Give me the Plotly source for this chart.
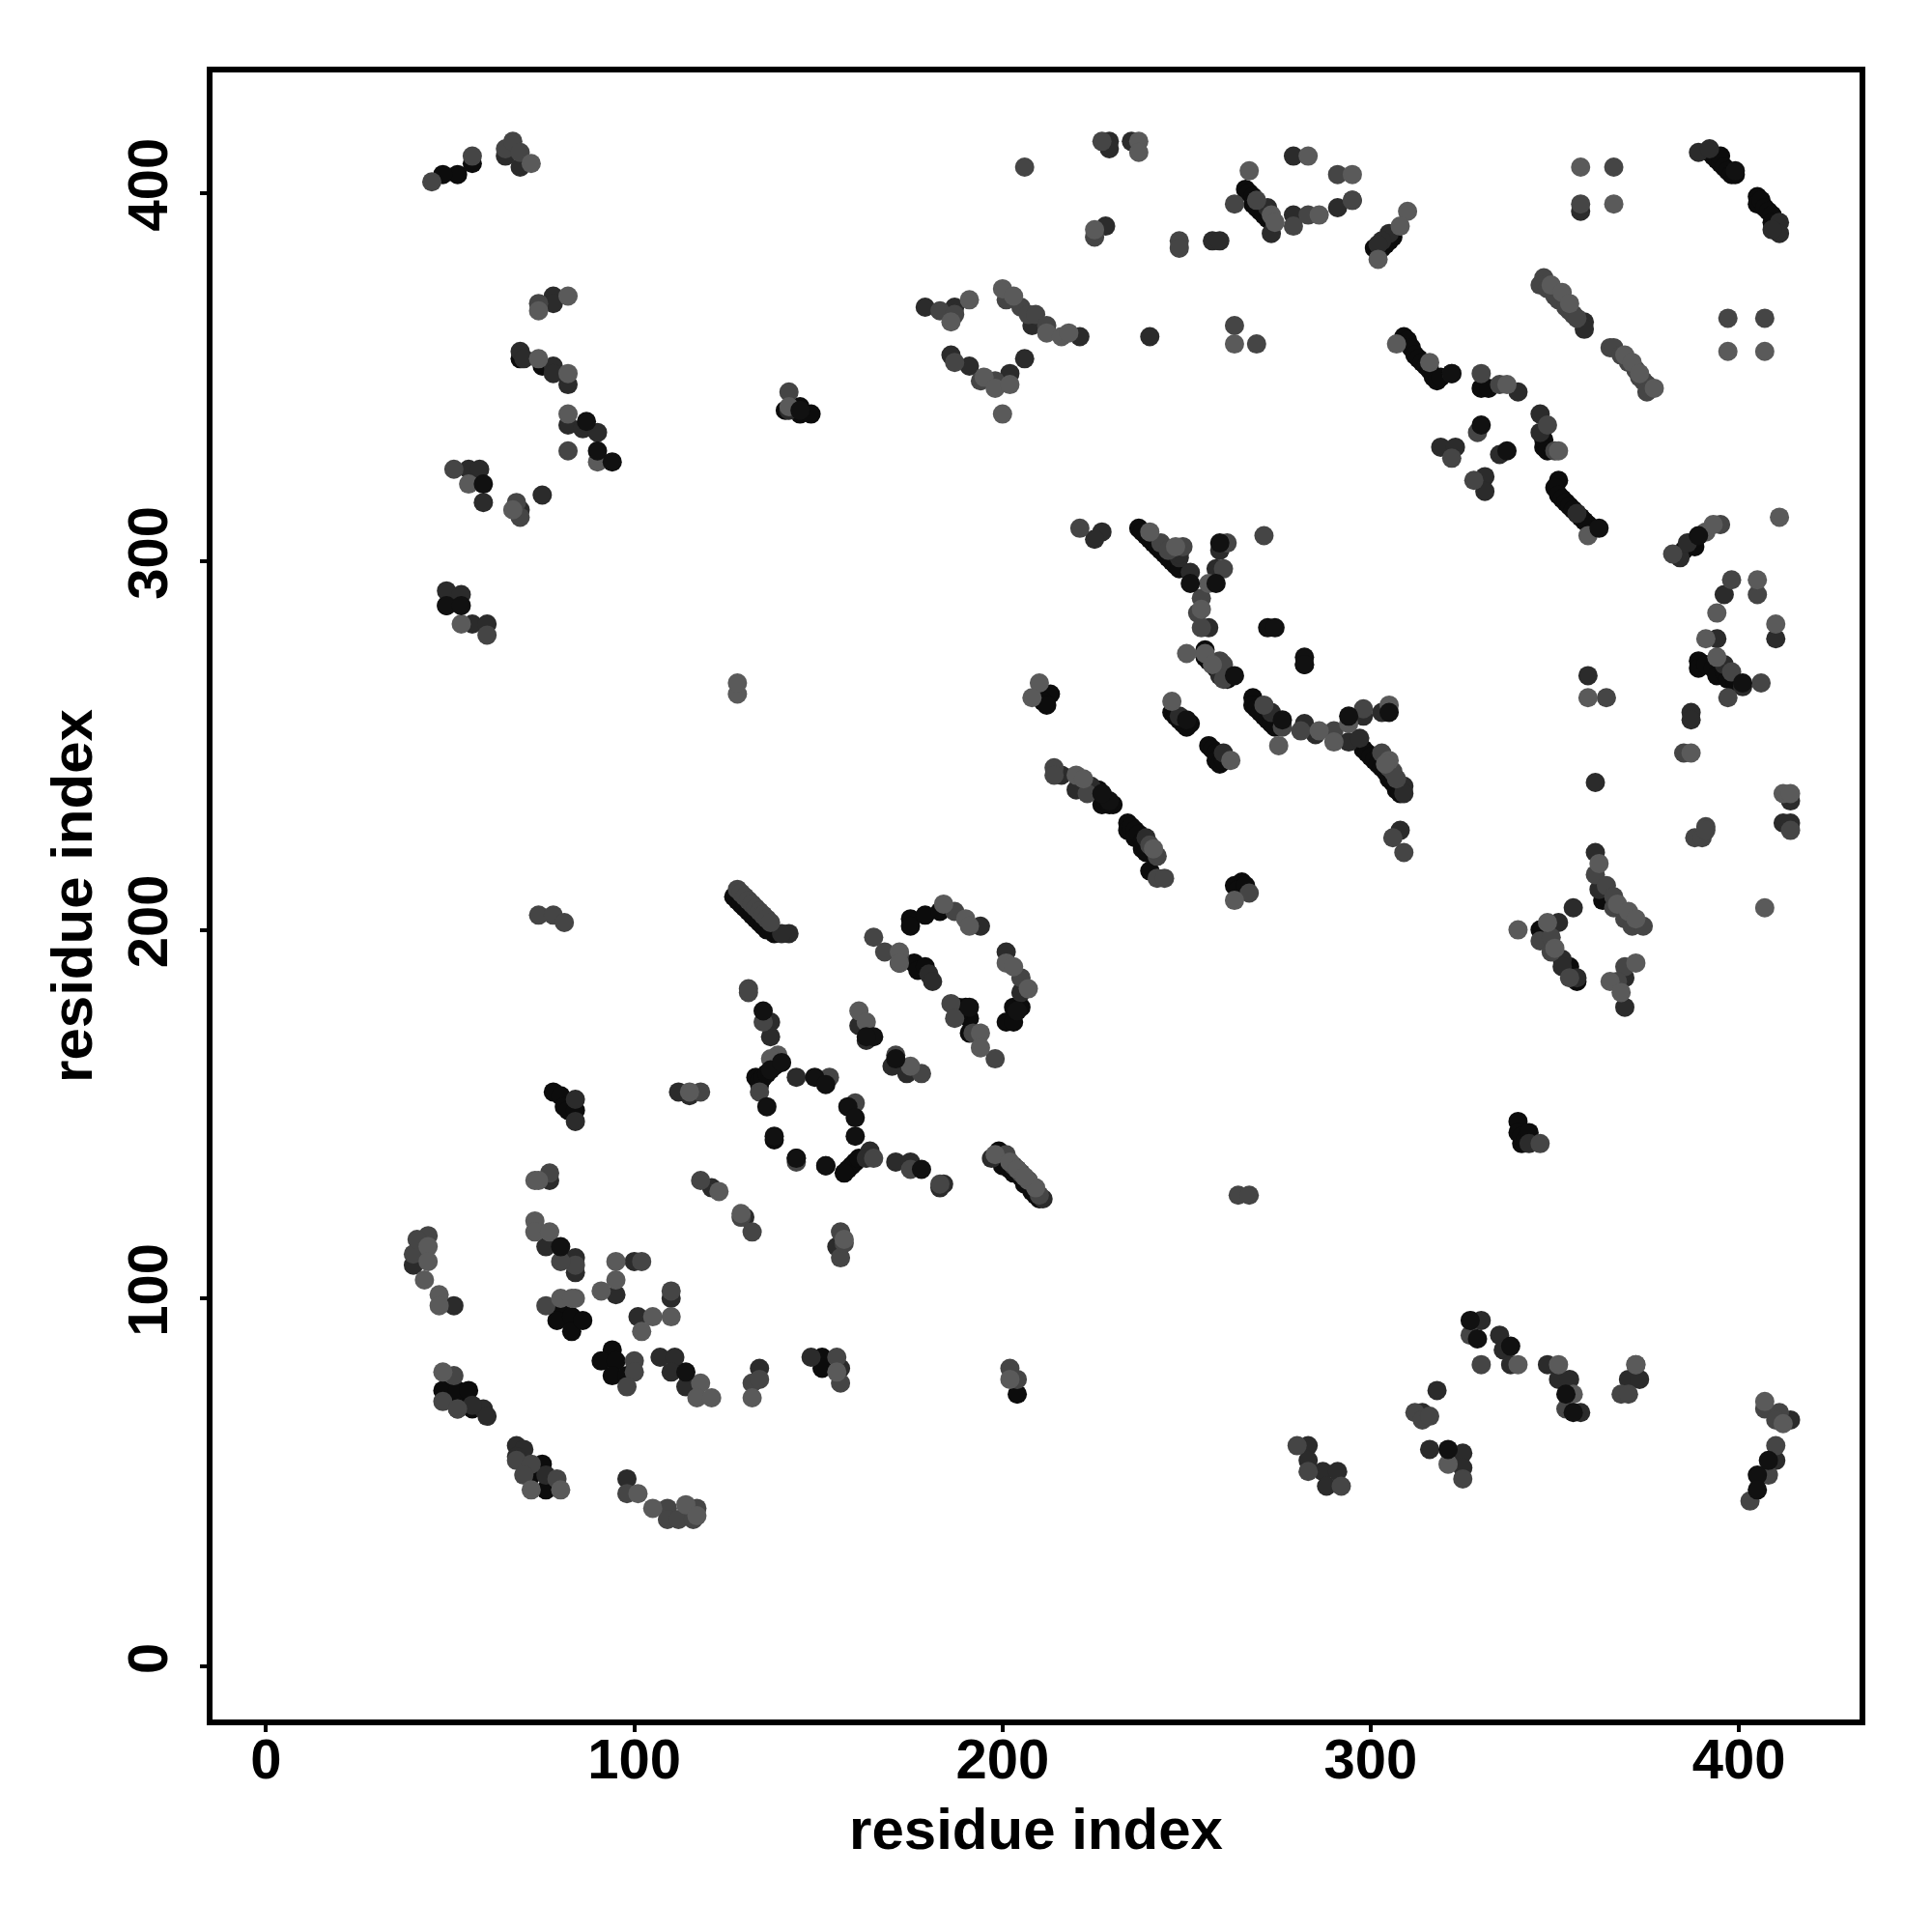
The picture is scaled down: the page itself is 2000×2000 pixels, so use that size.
import plotly.graph_objects as go

tick_values = [0, 100, 200, 300, 400]

contacts_black = [
 (48,75),(52,72),(52,75),(55,75),(56,70),(72,52),(75,55),(76,48),(151,84),(151,81),(204,74),(80,98),(79,94),(83,95),(83,91),(86,94),(94,86),(91,83),(95,83),(94,79),(98,79),
 (138,143),(144,138),(152,136),(158,135),(159,136),(160,137),(157,134),(161,138),(127,209),(128,208),(129,207),(130,206),
 (131,205),(132,204),(133,203),(134,202),(135,201),(136,200),(137,200),(138,199),(133,160),(134,158),(134,159),(135,160),(136,161),(138,163),
 (175,203),(175,201),(179,204),(183,205),(172,191),(176,191),(177,189),(179,190),(188,179),(190,179),(191,176),(188,177),(191,172),(203,179),(205,179),(201,175),(203,175),
 (199,140),(199,138),(200,136),(201,137),(202,135),(203,134),(204,135),(205,133),(206,131),(207,132),(208,129),(209,128),(210,127),
 (237,309),(238,308),(239,307),(240,306),(241,305),(242,304),(243,303),(244,302),(245,301),(246,300),(247,299),(248,298),
 (255,276),(255,274),(256,273),(257,272),(258,271),(259,270),(260,269),(261,268),
 (268,263),(268,261),(269,260),(270,259),(271,258),(272,257),(273,256),(274,255),
 (246,259),(247,258),(248,257),(249,256),(250,255),(251,256),(256,250),(257,249),(258,248),(258,246),(259,245),(260,246),
 (298,249),(299,248),(300,247),(301,246),(302,245),(303,244),(304,243),(305,241),(306,240),(307,238),(308,237),
 (213,264),(210,263),(211,262),(212,261),(226,238),(227,237),(227,234),(228,235),(229,234),(230,234),
 (234,229),(234,227),(235,228),(236,227),(236,225),(237,226),(238,224),(238,222),(239,221),(240,216),
 (265,213),(263,212),(264,211),(266,212),
 (266,401),(267,400),(268,399),(268,397),(269,396),(270,395),(271,394),(272,393),(301,385),(302,384),(303,385),(304,386),(305,387),(306,388),
 (392,411),(393,410),(394,409),(395,408),(395,410),(396,407),(397,406),(398,405),(399,405),(405,399),(405,397),(406,398),(407,396),(408,395),(409,394),(409,392),
 (309,361),(310,360),(311,358),(312,356),(313,355),(314,354),(315,353),(316,352),(317,350),(318,349),(319,350),
 (330,347),(332,347),(351,322),(350,320),(351,318),(352,317),(353,316),(354,315),(355,314),(356,313),(357,312),(358,311),(359,310),
 (347,331),(347,333),(348,330),(389,273),(389,271),(391,272),(393,271),(394,269),(396,270),(397,268),(399,267),
 (386,304),(385,303),(387,305),(388,304),(340,148),(340,145),(341,142),(341,144),(342,143),(343,145),(354,190),(355,187),(356,186),(346,200),(363,208),
 (141,341),(145,342),(145,340),(148,340),(78,156),(80,155),(81,152),(82,151),(84,151),(69,355),(75,353),(52,405),(48,405),(56,408),
]
contacts_dark = [
 (77,132),(76,114),(84,111),(84,107),(40,109),(51,98),(52,70),(59,70),(60,68),(56,71),(68,60),(70,59),(68,57),(76,52),(98,51),(101,95),(95,101),(100,110),(110,100),
 (107,84),(111,84),(110,80),(114,76),(134,81),(148,84),(156,81),(121,130),(130,122),(155,114),(112,156),(115,155),
 (142,199),(140,199),(137,175),(137,171),(144,160),(164,140),(163,138),(171,137),(175,137),(184,131),(183,130),(194,201),(180,188),(181,186),(201,194),(205,183),
 (163,170),(161,174),(170,163),(174,161),(197,138),(211,127),
 (227,308),(225,306),(248,301),(248,302),(251,297),(258,298),(259,303),(256,282),(282,272),(282,256),(285,253),(298,258),(303,259),(294,251),(297,252),(309,239),(308,227),(309,237),
 (216,242),(220,238),(224,239),(239,225),(248,258),(260,248),(259,269),(273,259),
 (305,389),(303,387),(302,386),(357,395),(389,411),(392,412),(411,392),(411,389),(409,390),(358,365),(358,363),(346,340),(346,335),
 (319,331),(323,331),(331,323),(331,319),(340,346),(335,329),(356,313),(322,351),
 (49,292),(49,288),(53,291),(56,283),(60,283),(59,316),(69,314),(75,318),(82,348),(82,337),(86,336),(90,335),(78,353),(78,351),(69,357),(70,355),(78,372),(78,370),(55,325),(58,325),(84,154),(84,148),(65,410),(69,407),
 (142,341),(229,414),(229,412),(235,414),(228,391),(257,387),(259,387),(279,410),(272,396),(273,389),(279,394),(291,396),(221,361),(240,361),(208,364),
 (179,369),(187,369),(186,356),(191,353),(202,351),(206,355),
 (384,301),(386,305),(396,291),(394,279),(396,272),(401,266),(387,259),(387,257),(359,269),(361,240),(414,235),(412,229),(414,229),(410,279),
 (361,221),(362,211),(355,206),(351,202),(352,192),(352,190),(356,187),(369,187),(369,179),(343,142),
 (283,60),(283,56),(287,53),(288,49),(291,53),(318,75),(314,69),(316,59),(325,58),(325,54),(330,94),(335,90),(336,86),(338,82),(348,82),(351,78),(354,78),(357,69),(370,78),(373,78),(410,56),(414,67),
]
contacts_mid = [
 (77,134),(44,117),(40,112),(41,116),(51,79),(48,72),(52,70),(68,56),(72,55),(70,52),(79,51),(98,47),(109,43),(109,40),(112,40),(117,43),(116,40),
 (76,98),(84,109),(80,110),(102,110),(110,102),(100,83),(100,80),(98,76),(132,77),(134,78),(155,84),(156,77),(118,132),(118,156),(129,122),(132,118),(156,118),(156,111),(157,115),
 (128,211),(129,210),(130,209),(131,208),(132,207),(133,206),(134,205),(135,204),(136,203),(137,202),(131,184),(131,183),(135,175),(134,156),(144,137),(153,160),(160,153),
 (165,138),(165,198),(168,194),(172,193),(171,166),(175,135),(183,131),(187,205),(205,187),(186,180),(187,176),(192,172),(198,165),(178,161),(201,139),(203,136),(205,134),(210,128),
 (221,309),(243,305),(245,303),(249,304),(254,290),(253,286),(254,282),(259,273),(260,272),(260,268),(261,305),(260,298),(271,307),(271,261),(276,255),(281,254),(290,254),(298,260),(303,248),(305,244),(306,243),(307,241),(306,225),(309,221),(214,244),(214,242),(223,237),(240,223),(242,220),(242,214),(244,214),(267,210),
 (295,398),(366,407),(357,397),(347,377),(346,375),(348,374),(350,372),(351,371),(353,369),(354,368),(355,367),(356,366),(365,358),(366,358),(368,356),(370,354),(372,352),(373,350),(374,349),(375,348),(375,346),(397,366),(407,366),(350,330),(348,337),(335,348),(330,351),(329,335),(322,328),(328,322),
 (45,403),(56,410),(65,412),(67,414),(69,411),(74,370),(82,330),(60,280),(51,325),(68,316),(69,312),(142,346),(74,204),(78,204),(81,202),
 (206,407),(227,414),(225,388),(248,387),(248,385),(263,397),(269,398),(279,391),(283,394),(291,405),(295,398),(263,364),(269,359),(183,368),(187,367),(201,371),(205,369),(207,367),(209,367),(212,364),(194,349),(198,349),(187,354),
 (382,302),(395,310),(398,295),(405,291),(398,270),(397,263),(406,267),(385,248),(364,263),(414,227),(388,225),(390,225),(391,228),(391,227),(361,215),(364,212),(366,209),(366,206),(369,203),(371,201),(374,201),(346,197),(349,198),(349,194),(354,187),(369,190),(367,186),(346,142),
 (264,128),(267,128),(202,81),(204,78),(280,60),(283,53),(292,49),(312,69),(314,67),(316,68),(325,51),(327,90),(330,82),(353,70),(372,82),(368,74),(370,74),(407,70),(411,69),(410,67),(410,60),(408,52),(403,45),
]
contacts_light = [
 (73,132),(74,132),(44,114),(44,110),(43,105),(47,101),(47,98),(48,80),(72,48),(80,48),(101,47),(105,43),(114,44),(117,41),(123,129),(129,123),(157,116),(73,121),(73,118),(77,118),
 (84,100),(80,100),(83,100),(95,110),(95,105),(91,102),(105,95),(102,91),(110,95),(118,77),(117,73),(121,73),(132,73),(155,80),(115,156),(139,166),(137,165),(184,207),(190,203),(191,201),(172,194),(172,191),(201,191),(203,190),(207,184),
 (194,172),(194,168),(161,178),(163,175),(175,163),(198,139),(207,132),(209,130),(202,137),(204,135),(206,133),
 (240,308),(247,304),(256,294),(254,287),(250,275),(255,275),(257,272),(275,250),(286,254),(290,251),(305,261),(294,256),(305,246),(304,245),(210,267),(208,263),(246,262),(262,246),(220,242),(222,241),(241,222),
 (310,395),(308,391),(302,382),(357,407),(366,397),(349,375),(352,373),(354,370),(369,356),(371,354),(373,351),(377,347),(397,357),(407,357),(307,359),(316,354),(337,348),(351,330),(411,312),
 (74,368),(72,408),(82,372),(74,355),(82,351),(82,340),(90,327),(55,321),(67,314),(53,283),(142,342),(128,264),(128,267),
 (237,414),(237,411),(225,390),(267,406),(273,394),(274,392),(283,410),(286,394),(295,405),(263,359),(186,365),(191,371),(200,374),(203,372),(212,362),(216,361),(218,362),(195,350),(198,347),(202,348),(200,340),
 (391,308),(393,310),(394,286),(391,279),(394,274),(405,295),(410,283),(359,263),(387,248),(412,237),(414,237),(362,218),(367,207),(370,205),(372,203),(348,202),(340,200),(350,195),(372,191),(365,186),(368,183),(407,206),(263,208),
 (202,78),(321,55),(340,82),(351,82),(355,74),(372,82),(407,72),(412,66),(359,307),
]
contacts_top = [
 (137,162),(140,164),(136,152),(138,144),(149,160),(152,158),(158,152),(160,149),(160,144),(135,178),(152,136),(144,138),(171,165),(165,171),(163,171),(178,135),
 (80,114),(114,80),(251,294),(258,294),(259,305),(263,269),(272,282),(274,282),(282,274),(276,257),(250,257),(282,272),
 (294,258),(305,259),(229,235),(227,237),(399,406),(322,351),(337,330),(330,337),(321,59),(338,87),(327,94),(405,52),(405,48),(408,56),(49,288),
 (53,288),(90,330),(94,327),(59,321),(87,338),(145,341),(362,309),(401,267),(389,307),(353,74),(355,69),(329,89),(191,179),(204,178),
]

shades = ["#0c0c0c", "#2b2b2b", "#454545", "#5a5a5a", "#111111"]
layers = [contacts_black, contacts_dark, contacts_mid, contacts_light, contacts_top]

fig = go.Figure()
for points, shade in zip(layers, shades):
    fig.add_trace(go.Scatter(x=[p[0] for p in points], y=[p[1] for p in points], mode="markers",
                             marker=dict(size=20, color=shade, line=dict(width=0)),
                             showlegend=False, hoverinfo="skip"))

tick_font = dict(family="Liberation Sans", size=58, color="black", weight=700)
title_font = dict(family="Liberation Sans", size=60, color="black", weight=700)
axis = dict(tickmode="array", tickvals=tick_values, ticks="outside", ticklen=7, tickwidth=4,
            tickcolor="black", showline=True, linecolor="black", linewidth=6, mirror=True,
            showgrid=False, zeroline=False, tickfont=tick_font)
fig.update_layout(width=2000, height=2000, autosize=False, plot_bgcolor="white", paper_bgcolor="white",
                  margin=dict(l=212, r=83, t=67, b=228), showlegend=False)
fig.update_xaxes(range=[-14.55, 432.75], ticklabelstandoff=-22,
                 title=dict(text="residue index", font=title_font, standoff=22), **axis)
fig.update_yaxes(range=[-14.3, 432.7], tickangle=-90, ticklabelstandoff=11,
                 title=dict(text="residue index", font=title_font, standoff=7), **axis)
fig.write_html("out.html")
